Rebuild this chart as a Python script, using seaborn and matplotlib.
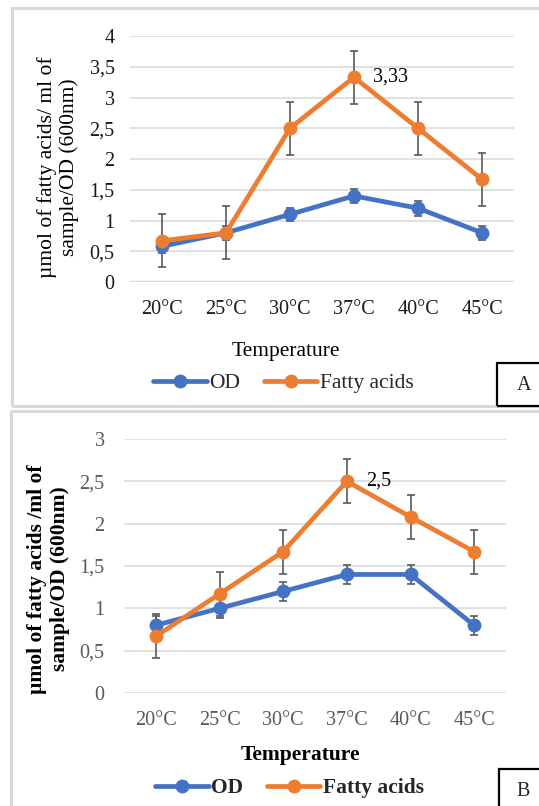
import matplotlib
matplotlib.use("Agg")
import matplotlib.pyplot as plt
import seaborn as sns
import pandas as pd
from matplotlib.ticker import FuncFormatter
from matplotlib.patches import Rectangle
from matplotlib.lines import Line2D

temps = ["20°C", "25°C", "30°C", "37°C", "40°C", "45°C"]

od_a = [0.58, 0.8, 1.1, 1.4, 1.2, 0.8]
od_a_err = [0.11, 0.11, 0.11, 0.11, 0.12, 0.11]
fa_a = [0.67, 0.8, 2.5, 3.33, 2.5, 1.67]
fa_a_err = [0.43, 0.43, 0.43, 0.43, 0.43, 0.43]

od_b = [0.8, 1.0, 1.2, 1.4, 1.4, 0.8]
od_b_err = [0.11, 0.11, 0.11, 0.11, 0.11, 0.11]
fa_b = [0.67, 1.17, 1.67, 2.5, 2.08, 1.67]
fa_b_err = [0.26, 0.26, 0.26, 0.26, 0.26, 0.26]

yticks_a = [0, 0.5, 1, 1.5, 2, 2.5, 3, 3.5, 4]
yticks_b = [0, 0.5, 1, 1.5, 2, 2.5, 3]

sns.set_style("white")
plt.rcParams["font.family"] = ["Liberation Serif", "DejaVu Serif"]

W, H = 539, 806
fig = plt.figure(figsize=(W / 100, H / 100), dpi=100)

BLUE = "#4472C4"
ORANGE = "#ED7D31"
GRID = "#D9D9D9"
ERR = "#595959"
LW = 3.4
MS = 10


def px_axes(x0, x1, y_top, y_bot):
    return fig.add_axes([x0 / W, 1 - y_bot / H, (x1 - x0) / W, (y_bot - y_top) / H])


def comma(v, pos):
    return ("%g" % v).replace(".", ",")


def draw_panel(ax, od, od_err, fa, fa_err, yticks, bold, tickcolor, ylabel,
               label_text, peak_idx, label_coords, xlabel_coords, ypad, xpad,
               zero_lw, ylabel_size):
    df = pd.DataFrame({"Temperature": temps * 2,
                       "value": od + fa,
                       "series": ["OD"] * 6 + ["Fatty acids"] * 6})
    for y in yticks:
        ax.axhline(y, color=GRID, lw=zero_lw if y == 0 else 1.1, zorder=0)
    ax.errorbar(temps, od, yerr=od_err, fmt="none", ecolor=ERR, elinewidth=1.2,
                capsize=3.2, capthick=1.2, zorder=2)
    ax.errorbar(temps, fa, yerr=fa_err, fmt="none", ecolor=ERR, elinewidth=1.2,
                capsize=3.2, capthick=1.2, zorder=2)
    sns.lineplot(data=df, x="Temperature", y="value", hue="series",
                 palette={"OD": BLUE, "Fatty acids": ORANGE},
                 marker="o", markersize=MS, markeredgewidth=0, linewidth=LW,
                 ax=ax, legend=False, zorder=3, sort=False)
    ax.set_xlim(-0.5, 5.5)
    ax.set_ylim(yticks[0], yticks[-1])
    ax.set_yticks(yticks)
    ax.yaxis.set_major_formatter(FuncFormatter(comma))
    for s in ax.spines.values():
        s.set_visible(False)
    weight = "bold" if bold else "normal"
    ax.tick_params(axis="both", length=0, labelsize=14.5, colors=tickcolor)
    ax.tick_params(axis="y", pad=ypad)
    ax.tick_params(axis="x", pad=xpad)
    ax.set_ylabel(ylabel, fontsize=ylabel_size, fontweight=weight, color="black",
                  linespacing=1.2)
    ax.yaxis.set_label_coords(*label_coords)
    ax.set_xlabel("Temperature", fontsize=15.5, fontweight=weight, color="black")
    ax.xaxis.set_label_coords(*xlabel_coords)
    ax.annotate(label_text, xy=(peak_idx, fa[peak_idx]), xytext=(14, 0),
                textcoords="offset points", ha="left", va="center",
                fontsize=14.5, color="black")


# panel borders
fig.patches.append(Rectangle((12 / W, 1 - 406 / H), 540 / W, 398 / H,
                             transform=fig.transFigure, fill=False,
                             edgecolor=GRID, lw=2.2))
fig.patches.append(Rectangle((11 / W, 1 - 812 / H), 540 / W, 401 / H,
                             transform=fig.transFigure, fill=False,
                             edgecolor=GRID, lw=2.2))

axA = px_axes(130, 514, 36, 282)
draw_panel(axA, od_a, od_a_err, fa_a, fa_a_err, yticks_a, False, "#1a1a1a",
           "µmol of fatty acids/ ml of\nsample/OD (600nm)", "3,33", 3,
           (-0.132, 0.467), (0.406, -0.242), 11, 13, 2.4, 15.5)

axB = px_axes(124, 506, 439, 693)
draw_panel(axB, od_b, od_b_err, fa_b, fa_b_err, yticks_b, True, "#595959",
           "µmol of fatty acids /ml of\nsample/OD (600nm)", "2,5", 3,
           (-0.141, 0.449), (0.463, -0.203), 14, 13, 1.1, 15.5)


def make_legend(ycenter, x_left, weight):
    handles = [Line2D([], [], color=BLUE, lw=LW, marker="o", markersize=MS,
                      markeredgewidth=0),
               Line2D([], [], color=ORANGE, lw=LW, marker="o", markersize=MS,
                      markeredgewidth=0)]
    return fig.legend(handles, ["OD", "Fatty acids"], loc="center left",
                      bbox_to_anchor=(x_left / W, 1 - ycenter / H), ncol=2,
                      frameon=False, handlelength=2.5, handletextpad=0.1,
                      columnspacing=1.1, borderpad=0, borderaxespad=0,
                      prop={"size": 15.5, "weight": weight}, numpoints=1)


make_legend(383, 153, "normal")
make_legend(788, 155, "bold")

# panel label boxes
fig.patches.append(Rectangle((497 / W, 1 - 406 / H), 60 / W, 43 / H,
                             transform=fig.transFigure, fill=False,
                             edgecolor="black", lw=1.6))
fig.text(524 / W, 1 - 385 / H, "A", ha="center", va="center", fontsize=14.5)
fig.patches.append(Rectangle((499 / W, 1 - 815 / H), 60 / W, 46 / H,
                             transform=fig.transFigure, fill=False,
                             edgecolor="black", lw=1.6))
fig.text(523 / W, 1 - 792 / H, "B", ha="center", va="center", fontsize=14.5)

fig.savefig("out.png", dpi=100)
